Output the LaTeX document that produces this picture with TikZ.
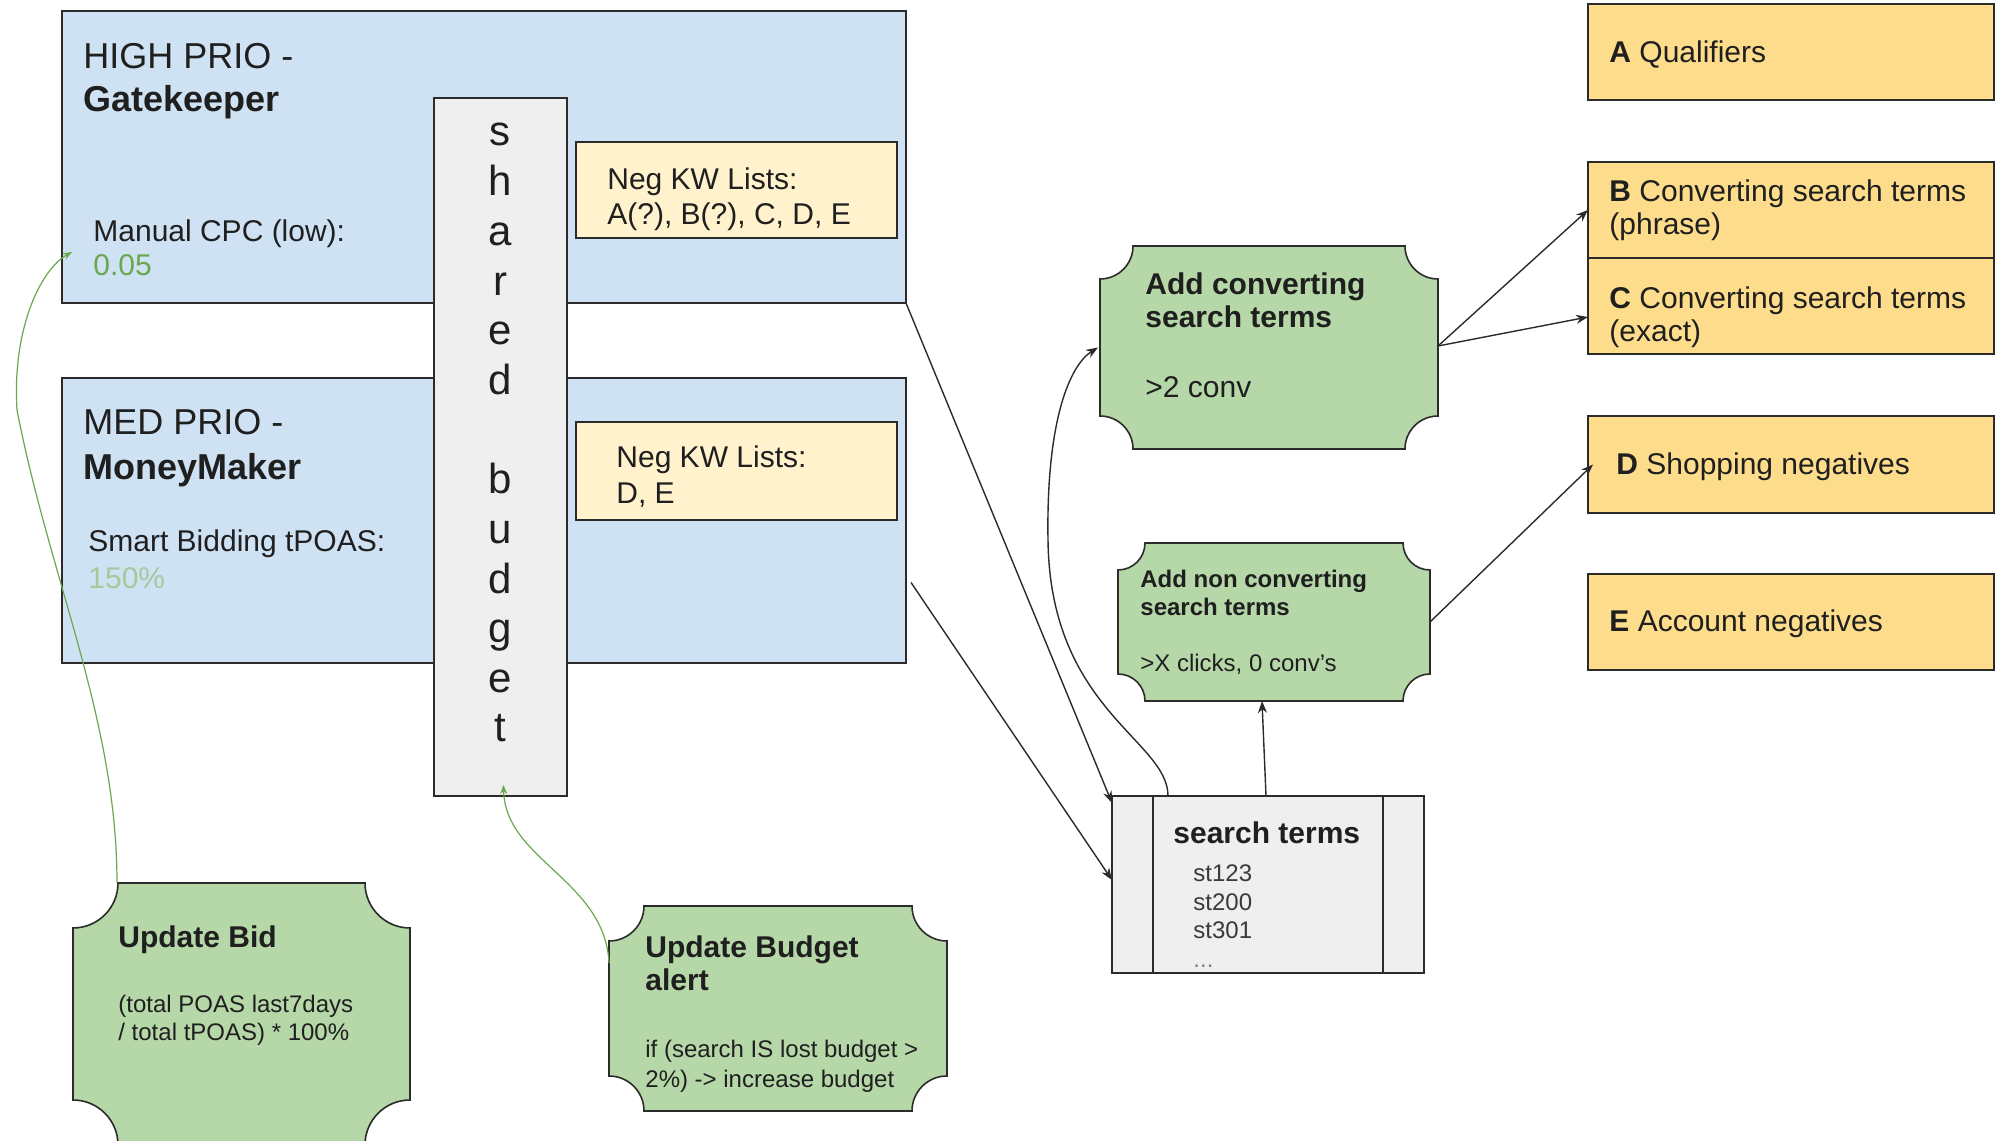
\documentclass[tikz,border=0pt]{standalone}
\usepackage{fontspec}
\setmainfont{Liberation Sans}
\usetikzlibrary{arrows.meta,calc}

\definecolor{campaignblue}{HTML}{CFE2F3}
\definecolor{listyellow}{HTML}{FFF2CC}
\definecolor{listorange}{HTML}{FDDD8B}
\definecolor{scriptgreen}{HTML}{B6D7A8}
\definecolor{panelgray}{HTML}{EFEFEF}
\definecolor{edge}{HTML}{2B2B2B}
\definecolor{ink}{HTML}{1F1F1F}
\definecolor{linkgreen}{HTML}{6AA84F}
\definecolor{valuegreen}{HTML}{6AA84F}
\definecolor{palegreen}{HTML}{A5C99B}
\definecolor{softink}{HTML}{3A3A3A}

% concave-cornered outline drawn round an empty node
\newcommand\plaqueoutline[2]{%
  \draw[plaque] ([xshift=#2]#1.north west) -- ([xshift=-#2]#1.north east)
    arc[start angle=180,end angle=270,radius=#2] -- ([yshift=#2]#1.south east)
    arc[start angle=90,end angle=180,radius=#2] -- ([xshift=#2]#1.south west)
    arc[start angle=0,end angle=90,radius=#2] -- ([yshift=-#2]#1.north west)
    arc[start angle=270,end angle=360,radius=#2] -- cycle;}

\tikzset{
  boxline/.style={draw=edge, line width=0.8pt},
  box/.style={boxline, inner sep=0pt, outer sep=0pt},
  campaign/.style={box, fill=campaignblue, minimum width=422pt},
  column/.style={box, fill=panelgray, minimum width=66.5pt, minimum height=349pt},
  neglist/.style={box, fill=listyellow, minimum width=160.5pt},
  listbox/.style={box, fill=listorange, minimum width=203pt, minimum height=48pt},
  stbox/.style={box, fill=panelgray, minimum width=156pt, minimum height=88.5pt},
  holder/.style={inner sep=0pt, outer sep=0pt, draw=none},
  plaque/.style={boxline, fill=scriptgreen},
  txt/.style={anchor=base west, inner sep=0pt, text=ink},
  title/.style={txt, font=\fontsize{18}{21}\selectfont},
  titlebold/.style={txt, font=\fontsize{18}{21}\selectfont\bfseries},
  body/.style={txt, font=\fontsize{15}{18}\selectfont},
  bodybold/.style={txt, font=\fontsize{15}{18}\selectfont\bfseries},
  small/.style={txt, font=\fontsize{12}{14}\selectfont},
  smallbold/.style={txt, font=\fontsize{12}{14}\selectfont\bfseries},
  letter/.style={anchor=base, inner sep=0pt, text=ink, font=\fontsize{21}{21}\selectfont},
  flow/.style={draw=edge, line width=0.7pt, -{Stealth[length=6pt,width=4.5pt]}},
  link/.style={draw=linkgreen, line width=0.6pt, -{Stealth[length=4.5pt,width=3.5pt]}},
}

\begin{document}
\begin{tikzpicture}[x=0.5pt,y=0.5pt]
\useasboundingbox (0,0) rectangle (1995,1140);
\clip (0,0) rectangle (1995,1140);

% campaigns
\node[campaign, minimum height=146pt] (high) at (484,983) {};
\node[campaign, minimum height=142.5pt] (med) at (484,619.5) {};
\node[column] (budget) at (500.5,693) {};
\node[neglist, minimum height=48pt] (negA) at (736.5,950) {};
\node[neglist, minimum height=49pt] (negB) at (736.5,669) {};

\node[title] (hightitle) at (83,1071) {HIGH PRIO -};
\node[titlebold] (highname) at (83,1028) {Gatekeeper};
\node[body] (cpclabel) at (93,898) {Manual CPC (low):};
\node[body, text=valuegreen] (cpcvalue) at (93,864) {0.05};
\node[body] (negAhead) at (607,950) {Neg KW Lists:};
\node[body] (negAitems) at (607,915) {A(?), B(?), C, D, E};

\node[title] (medtitle) at (83,705) {MED PRIO -};
\node[titlebold] (medname) at (83,660) {MoneyMaker};
\node[body] (tpoaslabel) at (88,588) {Smart Bidding tPOAS:};
\node[body, text=palegreen] (tpoasvalue) at (88,551) {150\%};
\node[body] (negBhead) at (616,672) {Neg KW Lists:};
\node[body] (negBitems) at (616,636) {D, E};

% shared budget, one letter per line
\foreach \ch/\yy [count=\i] in {s/994,h/944,a/894,r/844,e/795,d/745,b/646,u/596,d/546,g/497,e/447,t/398}
  \node[letter] (budgetch\i) at (500,\yy) {\ch};

% scripts
\node[holder, minimum width=168.5pt, minimum height=131pt] (updbid) at (241.5,126) {};
\plaqueoutline{updbid}{22.5pt}
\node[holder, minimum width=169pt, minimum height=102.5pt] (updbud) at (778,131.5) {};
\plaqueoutline{updbud}{17.5pt}
\node[holder, minimum width=169pt, minimum height=101.5pt] (addconv) at (1269,792.5) {};
\plaqueoutline{addconv}{16.5pt}
\node[holder, minimum width=156pt, minimum height=79pt] (addnon) at (1274,518) {};
\plaqueoutline{addnon}{13.5pt}

\node[bodybold] (bidhead) at (118,192) {Update Bid};
\node[small] (bidf1) at (118,128) {(total POAS last7days};
\node[small] (bidf2) at (118,100) {/ total tPOAS) * 100\%};
\node[bodybold] (budhead1) at (645,183) {Update Budget};
\node[bodybold] (budhead2) at (645,149) {alert};
\node[small] (budr1) at (645,83) {if (search IS lost budget >};
\node[small] (budr2) at (645,53) {2\%) -> increase budget};
\node[bodybold] (convhead1) at (1145,845) {Add converting};
\node[bodybold] (convhead2) at (1145,812) {search terms};
\node[body] (convrule) at (1145,742) {>2 conv};
\node[smallbold] (nonhead1) at (1140,552) {Add non converting};
\node[smallbold] (nonhead2) at (1140,524) {search terms};
\node[small] (nonrule) at (1140,468) {>X clicks, 0 conv's};

% search term report
\node[stbox] (st) at (1268,255.5) {};
\draw[boxline] ([xshift=20.5pt]st.north west) -- ([xshift=20.5pt]st.south west);
\draw[boxline] ([xshift=-20.5pt]st.north east) -- ([xshift=-20.5pt]st.south east);
\node[bodybold] (sthead) at (1173,296) {search terms};
\node[small, text=softink] (st1) at (1193,258) {st123};
\node[small, text=softink] (st2) at (1193,229) {st200};
\node[small, text=softink] (st3) at (1193,201) {st301};
\node[small, text=gray] (stmore) at (1193,172) {...};

% negative keyword lists
\node[listbox] (listA) at (1791,1088) {};
\node[listbox] (listB) at (1791,930) {};
\node[listbox] (listC) at (1791,834) {};
\node[listbox, minimum height=48.5pt] (listD) at (1791,675.5) {};
\node[listbox] (listE) at (1791,518) {};
\node[body] (listAtext) at (1609,1077) {\textbf{A} Qualifiers};
\node[body] (listBtext1) at (1609,938) {\textbf{B} Converting search terms};
\node[body] (listBtext2) at (1609,905) {(phrase)};
\node[body] (listCtext1) at (1609,831) {\textbf{C} Converting search terms};
\node[body] (listCtext2) at (1609,798) {(exact)};
\node[body] (listDtext) at (1616,665) {\textbf{D} Shopping negatives};
\node[body] (listEtext) at (1609,508) {\textbf{E} Account negatives};

% flows
\draw[flow] (high.south east) -- ([yshift=-3.5pt]st.north west);
\draw[flow] ([shift={(2.5pt,-31pt)}]med.east) -- ([yshift=-42pt]st.north west);
\draw[flow] ([xshift=-1pt]st.north) -- ([xshift=-6pt]addnon.south);
\draw[flow] ([xshift=-50pt]st.north) .. controls (1168,400) and (1050,430) .. (1048,600)
  .. controls (1046,720) and (1070,775) .. ([xshift=-1pt]addconv.west);
\draw[flow] ([yshift=0.75pt]addconv.east) -- (listB.west);
\draw[flow] ([yshift=0.75pt]addconv.east) -- ([yshift=-5.5pt]listC.west);
\draw[flow] (addnon.east) -- ([xshift=2.5pt]listD.west);

% script actions
\draw[link] ([xshift=22pt]updbid.north west) .. controls (117,420) and (50,560) .. (17,730)
  .. controls (12,810) and (40,870) .. ([shift={(5pt,25.5pt)}]high.south west);
\draw[link] ([yshift=-28.5pt]updbud.north west) .. controls (605,260) and (505,280) .. ([shift={(1.5pt,5.5pt)}]budget.south);
\end{tikzpicture}
\end{document}
